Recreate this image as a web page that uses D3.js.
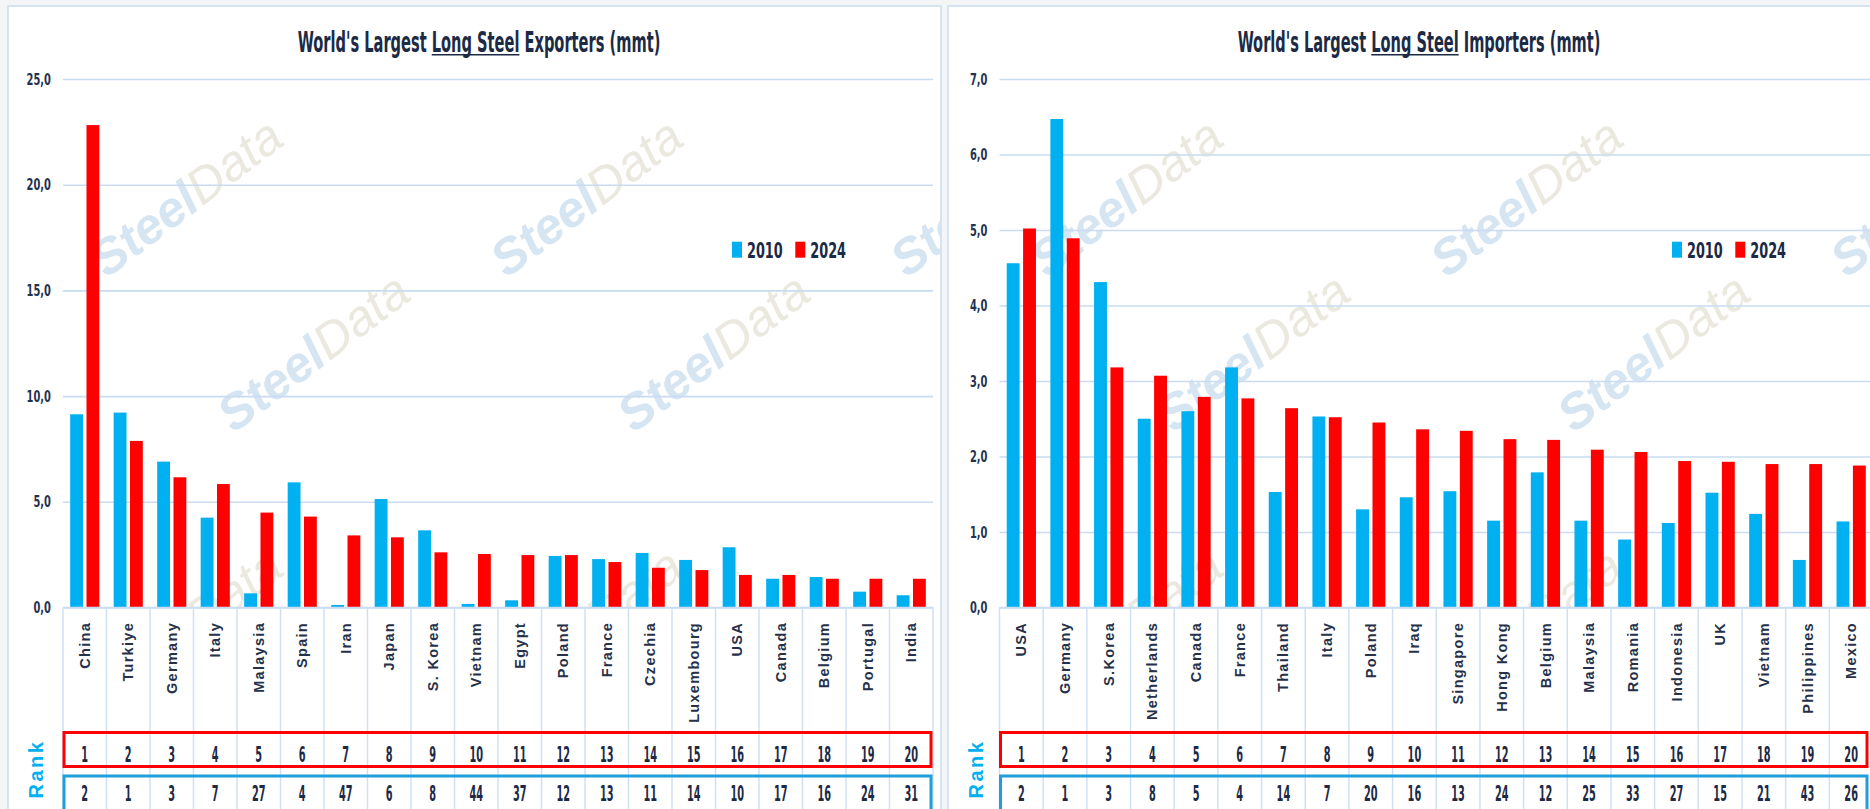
<!DOCTYPE html>
<html>
<head>
<meta charset="utf-8">
<script src="https://cdn.jsdelivr.net/npm/d3@7"></script>
<style>
  html, body { margin: 0; padding: 0; background: #f4f5f6; }
  svg { display: block; }
</style>
</head>
<body>
<svg id="chart" width="1870" height="809"></svg>
<script>
// ---- data (mmt) ----
const exportCountries = ["China", "Turkiye", "Germany", "Italy", "Malaysia", "Spain", "Iran", "Japan", "S. Korea", "Vietnam",
    "Egypt", "Poland", "France", "Czechia", "Luxembourg", "USA", "Canada", "Belgium", "Portugal", "India"];
const export2010 = [9.14, 9.22, 6.90, 4.25, 0.67, 5.92, 0.12, 5.13, 3.65, 0.17,
    0.34, 2.44, 2.29, 2.58, 2.25, 2.85, 1.36, 1.44, 0.75, 0.58];
const export2024 = [22.82, 7.88, 6.16, 5.84, 4.49, 4.30, 3.41, 3.32, 2.61, 2.53,
    2.48, 2.48, 2.15, 1.88, 1.77, 1.54, 1.54, 1.36, 1.36, 1.36];
const exportRank2024 = [1, 2, 3, 4, 5, 6, 7, 8, 9, 10, 11, 12, 13, 14, 15, 16, 17, 18, 19, 20];
const exportRank2010 = [2, 1, 3, 7, 27, 4, 47, 6, 8, 44, 37, 12, 13, 11, 14, 10, 17, 16, 24, 31];

const importCountries = ["USA", "Germany", "S.Korea", "Netherlands", "Canada", "France", "Thailand", "Italy", "Poland", "Iraq",
    "Singapore", "Hong Kong", "Belgium", "Malaysia", "Romania", "Indonesia", "UK", "Vietnam", "Philippines", "Mexico"];
const import2010 = [4.56, 6.47, 4.31, 2.50, 2.60, 3.18, 1.53, 2.53, 1.30, 1.46,
    1.54, 1.15, 1.79, 1.15, 0.90, 1.12, 1.52, 1.24, 0.63, 1.14];
const import2024 = [5.02, 4.89, 3.18, 3.07, 2.79, 2.77, 2.64, 2.52, 2.45, 2.36,
    2.34, 2.23, 2.22, 2.09, 2.06, 1.94, 1.93, 1.90, 1.90, 1.88];
const importRank2024 = [1, 2, 3, 4, 5, 6, 7, 8, 9, 10, 11, 12, 13, 14, 15, 16, 17, 18, 19, 20];
const importRank2010 = [2, 1, 3, 8, 5, 4, 14, 7, 20, 16, 13, 24, 12, 25, 33, 27, 15, 21, 43, 26];

const seriesNames = ["2010", "2024"];
const exportTicks = [0, 5, 10, 15, 20, 25];
const importTicks = [0, 1, 2, 3, 4, 5, 6, 7];

// ---- look ----
const BLUE = "#00b0f0", RED = "#ff0000", NAVY = "#1c2a45";
const GRID = "#c9dcf1", TABLE_LINE = "#d0e0f3";
const narrow = "'Liberation Sans Narrow', 'Arial Narrow', 'DejaVu Sans Condensed', sans-serif";
const sans = "'Liberation Sans', Arial, sans-serif";

const yTop = 79, yBase = 607.5;
const redRow = { y: 732.5, h: 34 }, blueRow = { y: 776, h: 45 };

// watermark placements relative to each panel's left edge
const watermarkSpots = [
    [178, 197], [578, 197], [978, 197],
    [305, 352], [705, 352], [1105, 352],
    [178, 627], [578, 627], [978, 627]
];

const svg = d3.select("#chart");

// width of a string in the condensed face, used to squeeze text to the original's narrow look
function measure(str, size) {
    const t = svg.append("text")
        .style("font-family", narrow)
        .style("font-weight", "bold")
        .style("font-size", size + "px")
        .text(str);
    const w = t.node().getComputedTextLength();
    t.remove();
    return w;
}
const tickSx = 24.4 / measure("20,0", 16);
const rankSx = 13.6 / measure("20", 21);
const legendSx = 35.7 / measure("2010", 22);

const panels = [
    {
        id: "exp", left: 8, width: 933, x0: 63, x1: 933,
        title: "World's Largest Long Steel Exporters (mmt)",
        countries: exportCountries, v2010: export2010, v2024: export2024,
        r2024: exportRank2024, r2010: exportRank2010, ticks: exportTicks
    },
    {
        id: "imp", left: 948, width: 930, x0: 999.5, x1: 1873,
        title: "World's Largest Long Steel Importers (mmt)",
        countries: importCountries, v2010: import2010, v2024: import2024,
        r2024: importRank2024, r2010: importRank2010, ticks: importTicks
    }
];

function drawPanel(p) {
    const g = svg.append("g").attr("class", "panel-" + p.id);

    g.append("rect")
        .attr("x", p.left).attr("y", 6)
        .attr("width", p.width).attr("height", 830)
        .attr("fill", "#ffffff")
        .attr("stroke", "#d5e3f3")
        .attr("stroke-width", 2);

    // clip for watermark (plot region only)
    const clipId = "clip-" + p.id;
    svg.append("defs").append("clipPath").attr("id", clipId)
        .append("rect")
        .attr("x", p.left + 1).attr("y", 7)
        .attr("width", Math.min(p.width - 2, 1869 - p.left)).attr("height", yBase - 7);

    const wm = g.append("g").attr("clip-path", "url(#" + clipId + ")");
    watermarkSpots.forEach(([dx, cy]) => {
        const t = wm.append("text")
            .attr("transform", "translate(" + (p.left + dx) + "," + cy + ") rotate(-37)")
            .attr("text-anchor", "middle")
            .attr("dy", "0.35em")
            .style("font-family", sans)
            .style("font-size", "50px")
            .style("font-style", "italic");
        t.append("tspan").text("Steel").style("font-weight", "bold").attr("fill", "#d6e5f2");
        t.append("tspan").text("Data").attr("fill", "#ebe9df");
    });

    const x = d3.scaleBand().domain(p.countries).range([p.x0, p.x1]).padding(0);
    const xs = d3.scaleBand().domain(seriesNames).range([0, x.bandwidth()])
        .paddingInner(0.213).paddingOuter(0.44);
    const y = d3.scaleLinear().domain([0, d3.max(p.ticks)]).range([yBase, yTop]);

    // grid lines
    g.append("g")
        .attr("class", "grid")
        .attr("transform", "translate(" + p.x0 + ",0)")
        .call(d3.axisLeft(y).tickValues(p.ticks).tickSize(-(p.x1 - p.x0)).tickFormat(""))
        .call(a => a.select(".domain").remove())
        .call(a => a.selectAll("line").attr("stroke", GRID).attr("stroke-width", 1.6));

    // tick labels
    g.append("g")
        .selectAll("g")
        .data(p.ticks)
        .enter()
        .append("g")
        .attr("transform", d => "translate(" + (p.x0 - 12) + "," + y(d) + ") scale(" + tickSx + ",1)")
        .append("text")
        .attr("dy", "0.35em")
        .attr("text-anchor", "end")
        .attr("fill", "#243250")
        .style("font-family", narrow)
        .style("font-weight", "bold")
        .style("font-size", "16px")
        .text(d => d3.format(".1f")(d).replace(".", ","));

    // bars
    const rows = p.countries.map((c, i) => ({ c: c, vals: [p.v2010[i], p.v2024[i]] }));
    const grp = g.append("g").selectAll("g")
        .data(rows)
        .enter()
        .append("g")
        .attr("transform", d => "translate(" + x(d.c) + ",0)");
    grp.selectAll("rect")
        .data(d => d.vals.map((v, k) => ({ s: seriesNames[k], v: v })))
        .enter()
        .append("rect")
        .attr("x", d => xs(d.s))
        .attr("width", xs.bandwidth())
        .attr("y", d => y(d.v))
        .attr("height", d => yBase - y(d.v))
        .attr("fill", d => d.s === "2010" ? BLUE : RED);

    // table underneath: column separators
    const edges = p.countries.map(c => x(c)).concat([p.x1]);
    g.append("g").selectAll("line")
        .data(edges)
        .enter()
        .append("line")
        .attr("x1", d => d).attr("x2", d => d)
        .attr("y1", yBase).attr("y2", 812)
        .attr("stroke", TABLE_LINE)
        .attr("stroke-width", 1.5);
    g.append("line")
        .attr("x1", p.x0).attr("x2", p.x1)
        .attr("y1", yBase).attr("y2", yBase)
        .attr("stroke", GRID).attr("stroke-width", 1.6);

    // category labels
    g.append("g").selectAll("text")
        .data(p.countries)
        .enter()
        .append("text")
        .attr("transform", d => "translate(" + (x(d) + x.bandwidth() / 2) + ",622) rotate(-90)")
        .attr("text-anchor", "end")
        .attr("dy", "0.35em")
        .attr("fill", "#263149")
        .style("font-family", sans)
        .style("font-weight", "bold")
        .style("font-size", "14.5px")
        .style("letter-spacing", "1.3px")
        .text(d => d);

    // rank boxes
    const boxW = Math.min(p.x1, 1869) - p.x0 - 3;
    g.append("rect")
        .attr("x", p.x0 + 1).attr("y", redRow.y)
        .attr("width", boxW).attr("height", redRow.h)
        .attr("fill", "none").attr("stroke", RED).attr("stroke-width", 3);
    g.append("rect")
        .attr("x", p.x0 + 1).attr("y", blueRow.y)
        .attr("width", boxW).attr("height", blueRow.h)
        .attr("fill", "none").attr("stroke", "#1e9fdc").attr("stroke-width", 3);

    const rankText = (vals, base) => {
        g.append("g").selectAll("g")
            .data(vals)
            .enter()
            .append("g")
            .attr("transform", (d, i) => "translate(" + (x(p.countries[i]) + x.bandwidth() / 2) + "," + base + ") scale(" + rankSx + ",1)")
            .append("text")
            .attr("text-anchor", "middle")
            .attr("fill", NAVY)
            .style("font-family", narrow)
            .style("font-weight", "bold")
            .style("font-size", "21px")
            .text(d => d);
    };
    rankText(p.r2024, 761.5);
    rankText(p.r2010, 800.5);

    g.append("text")
        .attr("transform", "translate(" + (p.left + 34.5) + ",769) rotate(-90)")
        .attr("text-anchor", "middle")
        .attr("fill", BLUE)
        .style("font-family", sans)
        .style("font-weight", "bold")
        .style("font-size", "20px")
        .style("letter-spacing", "2.5px")
        .text("Rank");

    // title, squeezed to the condensed width of the original
    const tg = g.append("g");
    const title = tg.append("text")
        .attr("text-anchor", "middle")
        .attr("fill", NAVY)
        .style("font-family", narrow)
        .style("font-weight", "bold")
        .style("font-size", "28px")
        .text(p.title);
    const node = title.node();
    const sx = 363 / node.getComputedTextLength();
    tg.attr("transform", "translate(" + (p.left + 471) + ",52) scale(" + sx + ",1)");
    const u = p.title.indexOf("Long Steel");
    const ux0 = node.getStartPositionOfChar(u).x;
    const ux1 = node.getEndPositionOfChar(u + 9).x;
    tg.append("line")
        .attr("x1", ux0).attr("x2", ux1)
        .attr("y1", 2.8).attr("y2", 2.8)
        .attr("stroke", NAVY).attr("stroke-width", 1.6);

    // legend
    const lg = g.append("g").attr("transform", "translate(" + (p.left + 724) + ",0)");
    seriesNames.forEach((s, k) => {
        const off = k * 63.3;
        lg.append("rect")
            .attr("x", off).attr("y", 241.7)
            .attr("width", 10).attr("height", 16)
            .attr("fill", k === 0 ? BLUE : RED);
        lg.append("g")
            .attr("transform", "translate(" + (off + 15) + ",257.7) scale(" + legendSx + ",1)")
            .append("text")
            .attr("fill", NAVY)
            .style("font-family", narrow)
            .style("font-weight", "bold")
            .style("font-size", "22px")
            .text(s);
    });
}

panels.forEach(drawPanel);
</script>
</body>
</html>
